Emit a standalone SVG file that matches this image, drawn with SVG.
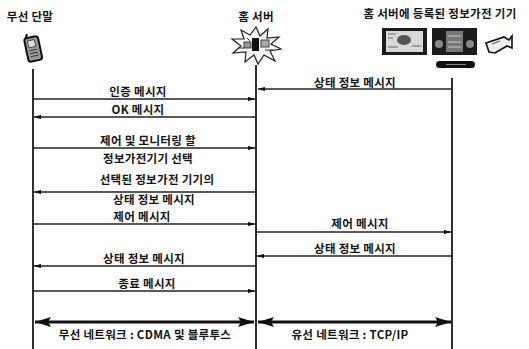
<svg xmlns="http://www.w3.org/2000/svg" width="529" height="349" viewBox="0 0 529 349">
  <style>
    .lbl { font-family: "Noto Sans CJK KR", "Noto Sans", sans-serif; font-size: 11.5px; font-weight: bold; fill: #141414; text-anchor: middle; letter-spacing: 0.3px; }
    .hdr { font-family: "Noto Sans CJK KR", "Noto Sans", sans-serif; font-size: 11.5px; font-weight: bold; fill: #141414; text-anchor: middle; letter-spacing: 0.3px; }
    .life { stroke: #1a1a1a; stroke-width: 1.8; fill: none; }
    .msg { stroke: #222; stroke-width: 1.4; fill: none; marker-end: url(#ah); }
    .net { stroke: #111; stroke-width: 3; fill: none; marker-start: url(#big); marker-end: url(#big); }
  </style>
  <defs>
    <marker id="ah" viewBox="0 0 10 6" refX="10" refY="3" markerWidth="7" markerHeight="4.5" orient="auto-start-reverse" markerUnits="userSpaceOnUse">
      <path d="M0,0 L10,3 L0,6 z" fill="#111"/>
    </marker>
    <marker id="big" viewBox="0 0 16 10" refX="16" refY="5" markerWidth="16" markerHeight="10" orient="auto-start-reverse" markerUnits="userSpaceOnUse">
      <path d="M0,0 L16,5 L0,10 L3,5 z" fill="#111"/>
    </marker>
  </defs>
  <rect width="529" height="349" fill="#fff"/>

  <!-- wireless terminal -->
  <g id="node-terminal">
    <text class="hdr" x="30" y="21">무선 단말</text>
    <g transform="rotate(-12 33 48)">
      <rect x="26" y="37" width="14" height="24" rx="3" fill="#9a9a9a" stroke="#111" stroke-width="2"/>
      <rect x="29" y="40" width="7" height="7" fill="#e0e0e0" stroke="#333" stroke-width="0.8"/>
      <path d="M29 50 h8 M29 53 h8 M29 56 h8" stroke="#333" stroke-width="1"/>
      <path d="M28 37 l2 -4" stroke="#111" stroke-width="2"/>
    </g>
    <line class="life" x1="33" y1="69" x2="33" y2="349"/>
  </g>

  <!-- home server -->
  <g id="node-server">
    <text class="hdr" x="256" y="21">홈 서버</text>
    <path d="M256 27 L260 36 L268 29 L267 38 L279 37 L271 44 L281 49 L270 51 L275 61 L264 55 L258 64 L254 55 L245 62 L246 52 L233 53 L241 46 L232 39 L244 39 L241 30 L250 35 Z" fill="#f4f4f4" stroke="#222" stroke-width="1.2"/>
    <rect x="252" y="38" width="7" height="13" fill="#111"/>
    <rect x="244" y="42" width="7" height="6" fill="#999" stroke="#222" stroke-width="0.8"/>
    <rect x="261" y="40" width="8" height="7" fill="#aaa" stroke="#222" stroke-width="0.8"/>
    <path d="M238 48 h6 M265 50 h8 M247 38 l3 3" stroke="#333" stroke-width="1"/>
    <line class="life" x1="256" y1="65" x2="256" y2="349"/>
  </g>

  <!-- registered home appliances -->
  <g id="node-devices">
    <text class="hdr" x="440" y="18">홈 서버에 등록된 정보가전 기기</text>
    <!-- television -->
    <rect x="382" y="28" width="45" height="27" fill="#1c1c1c"/>
    <rect x="386" y="31" width="37" height="21" fill="#d8d8d8"/>
    <ellipse cx="404" cy="40" rx="7" ry="5" fill="#555"/>
    <path d="M388 34 h8 M388 38 h5 M388 47 h10 M412 46 h9" stroke="#666" stroke-width="1.2"/>
    <!-- stereo -->
    <rect x="432" y="28" width="45" height="27" fill="#1c1c1c"/>
    <rect x="446" y="31" width="17" height="21" fill="#777"/>
    <circle cx="439" cy="44" r="4" fill="#888"/>
    <circle cx="470" cy="44" r="4" fill="#888"/>
    <path d="M448 36 h13 M448 42 h13 M448 47 h13" stroke="#ccc" stroke-width="1.2"/>
    <rect x="436" y="61" width="39" height="7" rx="3.5" fill="#111"/>
    <path d="M446 64.5 h20" stroke="#aaa" stroke-width="0.8"/>
    <!-- camcorder -->
    <path d="M486 43 L504 37 L509 40 L512 36 L512 48 L507 46 L495 53 L489 52 Z" fill="#eee" stroke="#111" stroke-width="1.6"/>
    <path d="M492 44 l8 -3" stroke="#555" stroke-width="1"/>
    <line class="life" x1="452" y1="78" x2="452" y2="349"/>
  </g>

  <!-- messages -->
  <g id="connectors">
    <line class="msg" x1="452" y1="89" x2="258" y2="89"/>
    <line class="msg" x1="33" y1="99" x2="255" y2="99"/>
    <line class="msg" x1="256" y1="117" x2="34" y2="117"/>
    <line class="msg" x1="33" y1="148" x2="255" y2="148"/>
    <line class="msg" x1="256" y1="192" x2="34" y2="192"/>
    <line class="msg" x1="33" y1="224" x2="255" y2="224"/>
    <line class="msg" x1="256" y1="232" x2="451" y2="232"/>
    <line class="msg" x1="452" y1="256" x2="257" y2="256"/>
    <line class="msg" x1="256" y1="266" x2="34" y2="266"/>
    <line class="msg" x1="33" y1="291" x2="255" y2="291"/>
    <line class="net" x1="35" y1="322" x2="254" y2="322"/>
    <line class="net" x1="258" y1="322" x2="451" y2="322"/>
  </g>

  <!-- message labels -->
  <g id="labels">
    <text class="lbl" x="355" y="87">상태 정보 메시지</text>
    <text class="lbl" x="138" y="96">인증 메시지</text>
    <text class="lbl" x="138" y="114">OK 메시지</text>
    <text class="lbl" x="148" y="145">제어 및 모니터링 할</text>
    <text class="lbl" x="148" y="163">정보가전기기 선택</text>
    <text class="lbl" x="157" y="184">선택된 정보가전 기기의</text>
    <text class="lbl" x="154" y="204">상태 정보 메시지</text>
    <text class="lbl" x="142" y="221">제어 메시지</text>
    <text class="lbl" x="360" y="228">제어 메시지</text>
    <text class="lbl" x="355" y="253">상태 정보 메시지</text>
    <text class="lbl" x="144" y="263">상태 정보 메시지</text>
    <text class="lbl" x="147" y="288">종료 메시지</text>
    <text class="lbl" x="145" y="339">무선 네트워크 : CDMA 및 블루투스</text>
    <text class="lbl" x="350" y="339">유선 네트워크 : TCP/IP</text>
  </g>
</svg>
